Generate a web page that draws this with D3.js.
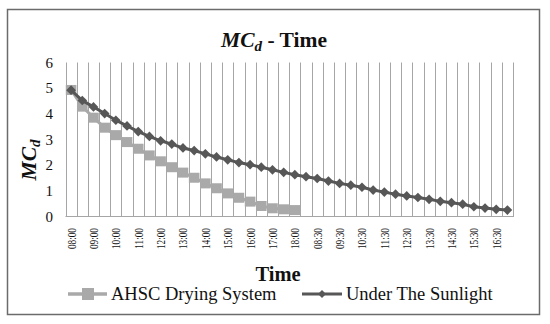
<!DOCTYPE html>
<html>
<head>
<meta charset="utf-8">
<script src="https://cdn.jsdelivr.net/npm/d3@7"></script>
<style>
  body { margin: 0; background: #fff; }
  svg { display: block; }
  svg text { font-family: "Liberation Serif", "DejaVu Serif", serif; }
</style>
</head>
<body>
<svg id="chart" width="550" height="324"></svg>
<script>
// categories: day 1 08:00-18:00, day 2 08:00-17:00, every 30 min
var categories = [
  '08:00', '08:30', '09:00', '09:30', '10:00', '10:30', '11:00', '11:30', '12:00', '12:30',
  '13:00', '13:30', '14:00', '14:30', '15:00', '15:30', '16:00', '16:30', '17:00', '17:30', '18:00',
  '08:00', '08:30', '09:00', '09:30', '10:00', '10:30', '11:00', '11:30', '12:00', '12:30',
  '13:00', '13:30', '14:00', '14:30', '15:00', '15:30', '16:00', '16:30', '17:00'
];

var ahscValues = [4.93, 4.28, 3.85, 3.46, 3.17, 2.90, 2.64, 2.38, 2.15, 1.92, 1.71,
  1.51, 1.29, 1.10, 0.90, 0.73, 0.58, 0.41, 0.32, 0.28, 0.25];

var sunValues = [4.92, 4.52, 4.27, 4.01, 3.75, 3.53, 3.31, 3.12, 2.95, 2.82, 2.67,
  2.57, 2.44, 2.32, 2.21, 2.10, 2.02, 1.92, 1.82, 1.72, 1.63,
  1.55, 1.48, 1.38, 1.29, 1.22, 1.14, 1.03, 0.95, 0.87, 0.80,
  0.74, 0.67, 0.59, 0.54, 0.48, 0.38, 0.33, 0.28, 0.25];

var yTicks = [0, 1, 2, 3, 4, 5, 6];
var seriesNames = ['AHSC Drying System', 'Under The Sunlight'];

var lightGray = '#a9a9a9';
var darkGray = '#575757';
var gridGray = '#a6a6a6';
var textColor = '#111';

var svg = d3.select('#chart');

var x = d3.scaleBand()
  .domain(d3.range(categories.length))
  .range([65.5, 513])
  .padding(0);

var y = d3.scaleLinear()
  .domain([0, 6])
  .range([216.5, 62.5]);

function cx(i) {
  return x(i) + x.bandwidth() / 2;
}

// outer frame
svg.append('rect')
  .attr('x', 7.5)
  .attr('y', 9.5)
  .attr('width', 532)
  .attr('height', 305)
  .attr('fill', '#fff')
  .attr('stroke', '#6b6b6b')
  .attr('stroke-width', 1.5);

// vertical gridlines at category boundaries
var bounds = d3.range(categories.length + 1).map(function(i) {
  return i < categories.length ? x(i) : x.range()[1];
});

svg.append('g')
  .selectAll('line')
  .data(bounds)
  .join('line')
  .attr('x1', d => Math.round(d) + 0.5)
  .attr('x2', d => Math.round(d) + 0.5)
  .attr('y1', y(6))
  .attr('y2', y(0))
  .attr('stroke', gridGray)
  .attr('stroke-width', 1);

// x axis line
svg.append('line')
  .attr('x1', x.range()[0])
  .attr('x2', x.range()[1] + 1)
  .attr('y1', y(0))
  .attr('y2', y(0))
  .attr('stroke', gridGray)
  .attr('stroke-width', 1.2);

// y tick labels
svg.append('g')
  .selectAll('text')
  .data(yTicks)
  .join('text')
  .attr('x', 53)
  .attr('y', d => y(d) + 5)
  .attr('text-anchor', 'end')
  .attr('font-size', 15)
  .attr('fill', textColor)
  .text(d => d);

// x tick labels, every second category
svg.append('g')
  .selectAll('text')
  .data(d3.range(0, categories.length, 2))
  .join('text')
  .attr('transform', d => 'translate(' + (cx(d) + 4.5) + ',228) rotate(-90) scale(0.74,1)')
  .attr('text-anchor', 'end')
  .attr('font-size', 12.5)
  .attr('fill', textColor)
  .text(d => categories[d]);

// AHSC series
var ahscLine = d3.line()
  .x((d, i) => cx(i))
  .y(d => y(d));

svg.append('path')
  .datum(ahscValues)
  .attr('d', ahscLine)
  .attr('fill', 'none')
  .attr('stroke', lightGray)
  .attr('stroke-width', 3);

svg.append('g')
  .selectAll('rect')
  .data(ahscValues)
  .join('rect')
  .attr('x', (d, i) => cx(i) - 5.3)
  .attr('y', d => y(d) - 5)
  .attr('width', 10.6)
  .attr('height', 10)
  .attr('fill', lightGray);

// sunlight series
var sunLine = d3.line()
  .x((d, i) => cx(i))
  .y(d => y(d));

svg.append('path')
  .datum(sunValues)
  .attr('d', sunLine)
  .attr('fill', 'none')
  .attr('stroke', darkGray)
  .attr('stroke-width', 3);

var diamond = d3.symbol().type(d3.symbolDiamond2).size(60);

svg.append('g')
  .selectAll('path')
  .data(sunValues)
  .join('path')
  .attr('transform', (d, i) => 'translate(' + cx(i) + ',' + y(d) + ')')
  .attr('d', diamond)
  .attr('fill', darkGray);

// chart title
var title = svg.append('text')
  .attr('x', 274)
  .attr('y', 47)
  .attr('text-anchor', 'middle')
  .attr('font-size', 21.5)
  .attr('font-weight', 'bold')
  .attr('fill', textColor);
title.append('tspan').attr('font-style', 'italic').text('MC');
title.append('tspan').attr('font-style', 'italic').attr('font-size', 15).attr('dy', 4).text('d');
title.append('tspan').attr('dy', -4).text(' - Time');

// y axis title
var yTitle = svg.append('text')
  .attr('transform', 'translate(36,160) rotate(-90)')
  .attr('text-anchor', 'middle')
  .attr('font-size', 21.5)
  .attr('font-weight', 'bold')
  .attr('font-style', 'italic')
  .attr('fill', textColor);
yTitle.append('tspan').text('MC');
yTitle.append('tspan').attr('font-size', 15).attr('dy', 4).text('d');

// x axis title
svg.append('text')
  .attr('x', 278)
  .attr('y', 281)
  .attr('text-anchor', 'middle')
  .attr('font-size', 20.5)
  .attr('font-weight', 'bold')
  .attr('fill', textColor)
  .text('Time');

// legend
var legend = svg.append('g');
var legendY = 294;

legend.append('line')
  .attr('x1', 68).attr('x2', 107)
  .attr('y1', legendY).attr('y2', legendY)
  .attr('stroke', lightGray).attr('stroke-width', 3.5);
legend.append('rect')
  .attr('x', 82).attr('y', legendY - 6)
  .attr('width', 12).attr('height', 12)
  .attr('fill', lightGray);
legend.append('text')
  .attr('x', 111).attr('y', 300)
  .attr('font-size', 18.5).attr('fill', textColor)
  .text(seriesNames[0]);

legend.append('line')
  .attr('x1', 302).attr('x2', 342)
  .attr('y1', legendY).attr('y2', legendY)
  .attr('stroke', darkGray).attr('stroke-width', 3);
legend.append('path')
  .attr('transform', 'translate(322,' + legendY + ')')
  .attr('d', d3.symbol().type(d3.symbolDiamond2).size(40))
  .attr('fill', darkGray);
legend.append('text')
  .attr('x', 346).attr('y', 300)
  .attr('font-size', 18.5).attr('fill', textColor)
  .text(seriesNames[1]);
</script>
</body>
</html>
